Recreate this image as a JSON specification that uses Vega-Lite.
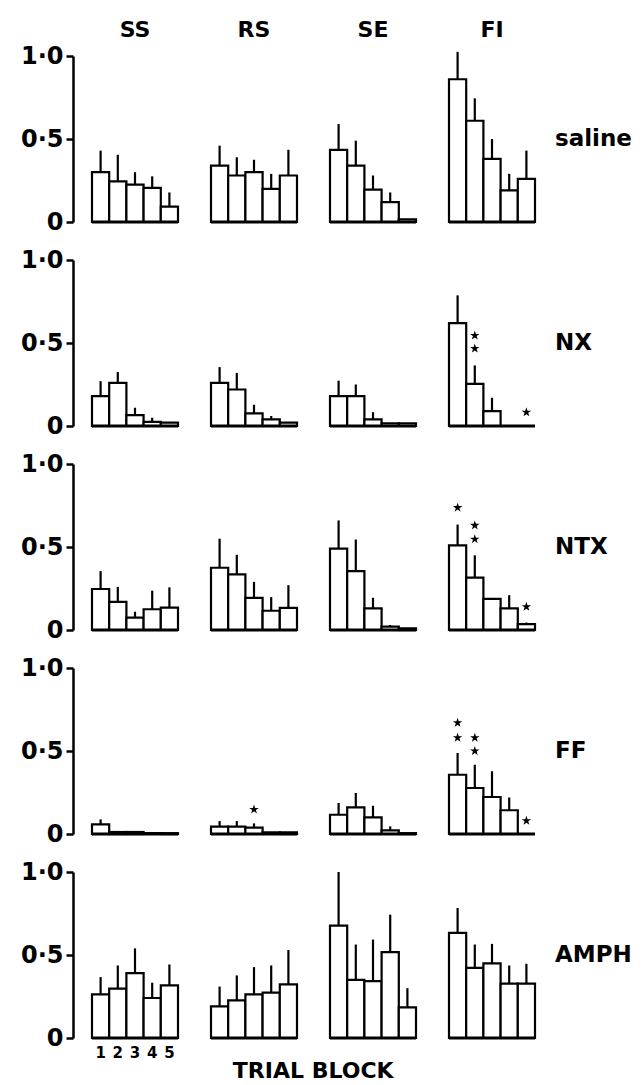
{
  "$schema": "https://vega.github.io/schema/vega-lite/v6.json",
  "padding": {"left": 20, "top": 19, "right": 0, "bottom": 0},
  "background": "white",
  "bounds": "flush",
  "config": {"view": {"stroke": null}, "font": "DejaVu Sans"},
  "title": {"text": "TRIAL BLOCK", "orient": "bottom", "anchor": "middle", "fontSize": 22, "font": "DejaVu Sans", "fontWeight": "bold", "color": "black", "offset": 0, "dx": -13},
  "data": {"values": [
    {"group": "saline", "measure": "SS", "trial": 1, "mean": 0.30, "upper": 0.43},
    {"group": "saline", "measure": "SS", "trial": 2, "mean": 0.245, "upper": 0.405},
    {"group": "saline", "measure": "SS", "trial": 3, "mean": 0.225, "upper": 0.30},
    {"group": "saline", "measure": "SS", "trial": 4, "mean": 0.205, "upper": 0.275},
    {"group": "saline", "measure": "SS", "trial": 5, "mean": 0.093, "upper": 0.178},
    {"group": "saline", "measure": "RS", "trial": 1, "mean": 0.34, "upper": 0.46},
    {"group": "saline", "measure": "RS", "trial": 2, "mean": 0.28, "upper": 0.39},
    {"group": "saline", "measure": "RS", "trial": 3, "mean": 0.30, "upper": 0.375},
    {"group": "saline", "measure": "RS", "trial": 4, "mean": 0.20, "upper": 0.29},
    {"group": "saline", "measure": "RS", "trial": 5, "mean": 0.28, "upper": 0.435},
    {"group": "saline", "measure": "SE", "trial": 1, "mean": 0.435, "upper": 0.59},
    {"group": "saline", "measure": "SE", "trial": 2, "mean": 0.34, "upper": 0.49},
    {"group": "saline", "measure": "SE", "trial": 3, "mean": 0.195, "upper": 0.28},
    {"group": "saline", "measure": "SE", "trial": 4, "mean": 0.12, "upper": 0.178},
    {"group": "saline", "measure": "SE", "trial": 5, "mean": 0.016, "upper": 0.016},
    {"group": "saline", "measure": "FI", "trial": 1, "mean": 0.86, "upper": 1.025},
    {"group": "saline", "measure": "FI", "trial": 2, "mean": 0.61, "upper": 0.745},
    {"group": "saline", "measure": "FI", "trial": 3, "mean": 0.38, "upper": 0.50},
    {"group": "saline", "measure": "FI", "trial": 4, "mean": 0.19, "upper": 0.29},
    {"group": "saline", "measure": "FI", "trial": 5, "mean": 0.26, "upper": 0.43},
    {"group": "NX", "measure": "SS", "trial": 1, "mean": 0.18, "upper": 0.27},
    {"group": "NX", "measure": "SS", "trial": 2, "mean": 0.26, "upper": 0.325},
    {"group": "NX", "measure": "SS", "trial": 3, "mean": 0.066, "upper": 0.11},
    {"group": "NX", "measure": "SS", "trial": 4, "mean": 0.025, "upper": 0.05},
    {"group": "NX", "measure": "SS", "trial": 5, "mean": 0.02, "upper": 0.02},
    {"group": "NX", "measure": "RS", "trial": 1, "mean": 0.26, "upper": 0.355},
    {"group": "NX", "measure": "RS", "trial": 2, "mean": 0.22, "upper": 0.32},
    {"group": "NX", "measure": "RS", "trial": 3, "mean": 0.076, "upper": 0.128},
    {"group": "NX", "measure": "RS", "trial": 4, "mean": 0.04, "upper": 0.06},
    {"group": "NX", "measure": "RS", "trial": 5, "mean": 0.02, "upper": 0.02},
    {"group": "NX", "measure": "SE", "trial": 1, "mean": 0.18, "upper": 0.273},
    {"group": "NX", "measure": "SE", "trial": 2, "mean": 0.18, "upper": 0.25},
    {"group": "NX", "measure": "SE", "trial": 3, "mean": 0.04, "upper": 0.083},
    {"group": "NX", "measure": "SE", "trial": 4, "mean": 0.016, "upper": 0.016},
    {"group": "NX", "measure": "SE", "trial": 5, "mean": 0.016, "upper": 0.016},
    {"group": "NX", "measure": "FI", "trial": 1, "mean": 0.62, "upper": 0.787},
    {"group": "NX", "measure": "FI", "trial": 2, "mean": 0.254, "upper": 0.365},
    {"group": "NX", "measure": "FI", "trial": 3, "mean": 0.09, "upper": 0.17},
    {"group": "NX", "measure": "FI", "trial": 4, "mean": 0, "upper": 0},
    {"group": "NX", "measure": "FI", "trial": 5, "mean": 0, "upper": 0},
    {"group": "NTX", "measure": "SS", "trial": 1, "mean": 0.247, "upper": 0.355},
    {"group": "NTX", "measure": "SS", "trial": 2, "mean": 0.17, "upper": 0.26},
    {"group": "NTX", "measure": "SS", "trial": 3, "mean": 0.075, "upper": 0.11},
    {"group": "NTX", "measure": "SS", "trial": 4, "mean": 0.125, "upper": 0.237},
    {"group": "NTX", "measure": "SS", "trial": 5, "mean": 0.135, "upper": 0.257},
    {"group": "NTX", "measure": "RS", "trial": 1, "mean": 0.375, "upper": 0.55},
    {"group": "NTX", "measure": "RS", "trial": 2, "mean": 0.335, "upper": 0.453},
    {"group": "NTX", "measure": "RS", "trial": 3, "mean": 0.194, "upper": 0.29},
    {"group": "NTX", "measure": "RS", "trial": 4, "mean": 0.116, "upper": 0.198},
    {"group": "NTX", "measure": "RS", "trial": 5, "mean": 0.133, "upper": 0.27},
    {"group": "NTX", "measure": "SE", "trial": 1, "mean": 0.49, "upper": 0.66},
    {"group": "NTX", "measure": "SE", "trial": 2, "mean": 0.355, "upper": 0.545},
    {"group": "NTX", "measure": "SE", "trial": 3, "mean": 0.13, "upper": 0.194},
    {"group": "NTX", "measure": "SE", "trial": 4, "mean": 0.02, "upper": 0.03},
    {"group": "NTX", "measure": "SE", "trial": 5, "mean": 0.01, "upper": 0.01},
    {"group": "NTX", "measure": "FI", "trial": 1, "mean": 0.51, "upper": 0.635},
    {"group": "NTX", "measure": "FI", "trial": 2, "mean": 0.316, "upper": 0.45},
    {"group": "NTX", "measure": "FI", "trial": 3, "mean": 0.188, "upper": 0.188},
    {"group": "NTX", "measure": "FI", "trial": 4, "mean": 0.13, "upper": 0.21},
    {"group": "NTX", "measure": "FI", "trial": 5, "mean": 0.035, "upper": 0.045},
    {"group": "FF", "measure": "SS", "trial": 1, "mean": 0.058, "upper": 0.088},
    {"group": "FF", "measure": "SS", "trial": 2, "mean": 0.012, "upper": 0.012},
    {"group": "FF", "measure": "SS", "trial": 3, "mean": 0.012, "upper": 0.012},
    {"group": "FF", "measure": "SS", "trial": 4, "mean": 0.005, "upper": 0.005},
    {"group": "FF", "measure": "SS", "trial": 5, "mean": 0.005, "upper": 0.005},
    {"group": "FF", "measure": "RS", "trial": 1, "mean": 0.044, "upper": 0.078},
    {"group": "FF", "measure": "RS", "trial": 2, "mean": 0.044, "upper": 0.078},
    {"group": "FF", "measure": "RS", "trial": 3, "mean": 0.038, "upper": 0.064},
    {"group": "FF", "measure": "RS", "trial": 4, "mean": 0.01, "upper": 0.01},
    {"group": "FF", "measure": "RS", "trial": 5, "mean": 0.01, "upper": 0.01},
    {"group": "FF", "measure": "SE", "trial": 1, "mean": 0.116, "upper": 0.187},
    {"group": "FF", "measure": "SE", "trial": 2, "mean": 0.16, "upper": 0.247},
    {"group": "FF", "measure": "SE", "trial": 3, "mean": 0.10, "upper": 0.17},
    {"group": "FF", "measure": "SE", "trial": 4, "mean": 0.022, "upper": 0.046},
    {"group": "FF", "measure": "SE", "trial": 5, "mean": 0.005, "upper": 0.005},
    {"group": "FF", "measure": "FI", "trial": 1, "mean": 0.357, "upper": 0.488},
    {"group": "FF", "measure": "FI", "trial": 2, "mean": 0.277, "upper": 0.417},
    {"group": "FF", "measure": "FI", "trial": 3, "mean": 0.223, "upper": 0.378},
    {"group": "FF", "measure": "FI", "trial": 4, "mean": 0.143, "upper": 0.22},
    {"group": "FF", "measure": "FI", "trial": 5, "mean": 0, "upper": 0},
    {"group": "AMPH", "measure": "SS", "trial": 1, "mean": 0.263, "upper": 0.367},
    {"group": "AMPH", "measure": "SS", "trial": 2, "mean": 0.298, "upper": 0.437},
    {"group": "AMPH", "measure": "SS", "trial": 3, "mean": 0.391, "upper": 0.54},
    {"group": "AMPH", "measure": "SS", "trial": 4, "mean": 0.241, "upper": 0.333},
    {"group": "AMPH", "measure": "SS", "trial": 5, "mean": 0.317, "upper": 0.443},
    {"group": "AMPH", "measure": "RS", "trial": 1, "mean": 0.19, "upper": 0.31},
    {"group": "AMPH", "measure": "RS", "trial": 2, "mean": 0.227, "upper": 0.377},
    {"group": "AMPH", "measure": "RS", "trial": 3, "mean": 0.263, "upper": 0.427},
    {"group": "AMPH", "measure": "RS", "trial": 4, "mean": 0.273, "upper": 0.437},
    {"group": "AMPH", "measure": "RS", "trial": 5, "mean": 0.323, "upper": 0.53},
    {"group": "AMPH", "measure": "SE", "trial": 1, "mean": 0.677, "upper": 1.0},
    {"group": "AMPH", "measure": "SE", "trial": 2, "mean": 0.35, "upper": 0.563},
    {"group": "AMPH", "measure": "SE", "trial": 3, "mean": 0.343, "upper": 0.593},
    {"group": "AMPH", "measure": "SE", "trial": 4, "mean": 0.517, "upper": 0.743},
    {"group": "AMPH", "measure": "SE", "trial": 5, "mean": 0.184, "upper": 0.30},
    {"group": "AMPH", "measure": "FI", "trial": 1, "mean": 0.633, "upper": 0.783},
    {"group": "AMPH", "measure": "FI", "trial": 2, "mean": 0.423, "upper": 0.563},
    {"group": "AMPH", "measure": "FI", "trial": 3, "mean": 0.449, "upper": 0.567},
    {"group": "AMPH", "measure": "FI", "trial": 4, "mean": 0.328, "upper": 0.437},
    {"group": "AMPH", "measure": "FI", "trial": 5, "mean": 0.328, "upper": 0.447},
    {"group": "NX", "measure": "FI", "trial": 2, "star": 0.545},
    {"group": "NX", "measure": "FI", "trial": 2, "star": 0.467},
    {"group": "NX", "measure": "FI", "trial": 5, "star": 0.083},
    {"group": "NTX", "measure": "FI", "trial": 1, "star": 0.737},
    {"group": "NTX", "measure": "FI", "trial": 2, "star": 0.63},
    {"group": "NTX", "measure": "FI", "trial": 2, "star": 0.547},
    {"group": "NTX", "measure": "FI", "trial": 5, "star": 0.14},
    {"group": "FF", "measure": "RS", "trial": 3, "star": 0.148},
    {"group": "FF", "measure": "FI", "trial": 1, "star": 0.67},
    {"group": "FF", "measure": "FI", "trial": 1, "star": 0.58},
    {"group": "FF", "measure": "FI", "trial": 2, "star": 0.58},
    {"group": "FF", "measure": "FI", "trial": 2, "star": 0.50},
    {"group": "FF", "measure": "FI", "trial": 5, "star": 0.08}
  ]},
  "facet": {
    "row": {"field": "group", "type": "nominal", "sort": ["saline", "NX", "NTX", "FF", "AMPH"],
      "header": {"title": null, "labelOrient": "right", "labelAngle": 0, "labelFontSize": 23, "labelFontWeight": "bold", "labelFont": "DejaVu Sans", "labelColor": "black", "labelPadding": 20}},
    "column": {"field": "measure", "type": "nominal", "sort": ["SS", "RS", "SE", "FI"],
      "header": {"title": null, "labelOrient": "top", "labelFontSize": 22, "labelFontWeight": "bold", "labelFont": "DejaVu Sans", "labelColor": "black", "labelPadding": 14}}
  },
  "spacing": {"row": 38, "column": 33},
  "spec": {
    "width": 86,
    "height": 166,
    "layer": [
      {
        "transform": [{"filter": "isValid(datum.mean)"}],
        "mark": {"type": "bar", "fill": "white", "stroke": "black", "strokeWidth": 2.2},
        "encoding": {
          "x": {"field": "trial", "type": "ordinal", "scale": {"paddingInner": 0, "paddingOuter": 0}, "axis": null},
          "y": {"field": "mean", "type": "quantitative", "scale": {"domain": [0, 1], "nice": false},
            "axis": {"title": null, "values": [0, 0.5, 1], "labelExpr": "datum.value == 0 ? '0' : replace(format(datum.value, '.1f'), '.', '·')", "grid": false, "domainColor": "black", "domainWidth": 2.5, "tickColor": "black", "tickWidth": 2.5, "tickSize": 7, "labelFontSize": 24, "labelFontWeight": "bold", "labelFont": "DejaVu Sans", "labelColor": "black", "offset": 19, "labelPadding": 3}}
        }
      },
      {
        "transform": [{"filter": "isValid(datum.mean)"}],
        "mark": {"type": "rule", "strokeWidth": 2.2, "color": "black"},
        "encoding": {
          "x": {"field": "trial", "type": "ordinal"},
          "y": {"field": "mean", "type": "quantitative"},
          "y2": {"field": "upper"}
        }
      },
      {
        "transform": [{"filter": "isValid(datum.mean) && datum.trial == 1"}],
        "mark": {"type": "rule", "strokeWidth": 3, "color": "black"},
        "encoding": {"y": {"datum": 0}}
      },
      {
        "transform": [{"filter": "isValid(datum.star)"}],
        "mark": {"type": "point", "shape": "M0,-1L0.2245,-0.309L0.9511,-0.309L0.3633,0.118L0.5878,0.809L0,0.382L-0.5878,0.809L-0.3633,0.118L-0.9511,-0.309L-0.2245,-0.309Z", "filled": true, "color": "black", "size": 100, "opacity": 1},
        "encoding": {
          "x": {"field": "trial", "type": "ordinal"},
          "y": {"field": "star", "type": "quantitative"}
        }
      },
      {
        "transform": [{"filter": "datum.group == 'AMPH' && datum.measure == 'SS' && isValid(datum.mean)"}],
        "mark": {"type": "text", "fontSize": 15, "fontWeight": "bold", "font": "DejaVu Sans", "baseline": "top", "dy": 8, "color": "black"},
        "encoding": {
          "x": {"field": "trial", "type": "ordinal"},
          "y": {"datum": 0},
          "text": {"field": "trial"}
        }
      }
    ]
  }
}
